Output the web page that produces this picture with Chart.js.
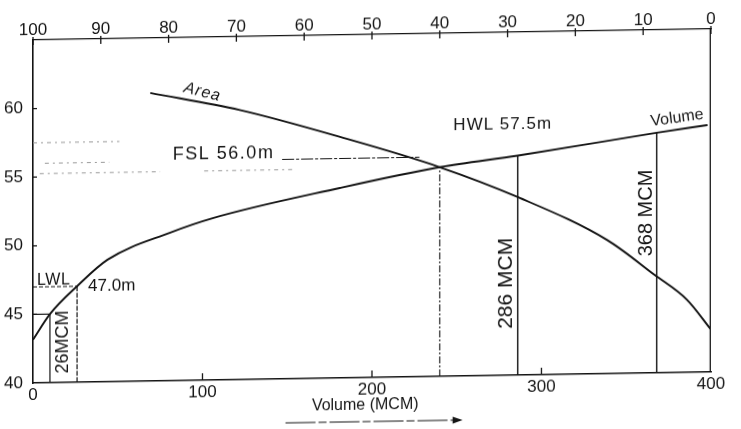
<!DOCTYPE html>
<html>
<head>
<meta charset="utf-8">
<script src="https://cdn.jsdelivr.net/npm/chart.js@4.4.1/dist/chart.umd.min.js"></script>
<style>
  html, body { margin: 0; padding: 0; background: #fff; overflow: hidden; width: 741px; height: 429px; }
  #wrap { position: absolute; left: 0; top: 0; width: 741px; height: 445px;
          transform: skewY(-0.93deg); transform-origin: 33px 0; }
</style>
</head>
<body>
<div id="wrap"><canvas id="c"></canvas></div>
<script>
// Elevation–capacity curve (bottom axis, volume in MCM)
const volumeMCM  = [0, 10, 26, 44, 81, 106, 181, 240, 286, 368, 398];
const volumeElev = [43.15, 45.0, 47.0, 48.9, 50.8, 51.8, 53.85, 55.25, 56.0, 57.5, 58.0];

// Elevation–area curve (top axis, reversed scale)
const areaValues = [82.7, 69.5, 54.7, 40, 28.5, 15.3, 8.3, 3.5, 0];
const areaElev   = [61.0, 59.65, 57.57, 55.25, 52.98, 49.74, 47.14, 45.28, 43.1];

// Reservoir levels and the storages read at them
const lwlElev = 47.0, fslElev = 56.0, hwlElev = 57.5;
const deadStorage = 26, fslStorage = 286, hwlStorage = 368;
const crossVolume = 240;          // where the two curves meet
const firstMarkVolume = 10;       // storage at 45 m

// Faint construction lines on the left: [elevation, from MCM, to MCM]
const guideLines = [[57.5, 0, 51], [56.0, 7, 45], [55.25, 4, 75], [55.25, 101, 155]];

// Tick labels
const volumeTicks = [0, 100, 200, 300, 400];
const areaTicks   = [0, 10, 20, 30, 40, 50, 60, 70, 80, 90, 100];
const elevTicks   = [40, 45, 50, 55, 60];

const ink = '#141414';
const tickFont = { family: 'Liberation Sans', size: 17 };

const elevAt = v => volumeElev[volumeMCM.indexOf(v)];
const pts = (xs, ys) => xs.map((x, i) => ({ x, y: ys[i] }));
const seg = (x1, y1, x2, y2) => [{ x: x1, y: y1 }, { x: x2, y: y2 }];

function lineSet(data, opts = {}) {
  return Object.assign({
    data, xAxisID: 'x', yAxisID: 'y', showLine: true, pointRadius: 0,
    borderColor: ink, borderWidth: 1.3, fill: false
  }, opts);
}

const datasets = [
  lineSet(pts(volumeMCM, volumeElev), { borderWidth: 1.9, cubicInterpolationMode: 'monotone' }),
  lineSet(pts(areaValues, areaElev), { xAxisID: 'xa', borderWidth: 1.9, cubicInterpolationMode: 'monotone' }),
  // drops from the capacity curve to the volume axis
  lineSet(seg(firstMarkVolume, 40, firstMarkVolume, elevAt(firstMarkVolume)), { borderWidth: 1.2 }),
  lineSet(seg(deadStorage, 40, deadStorage, elevAt(deadStorage)), { borderWidth: 1.2, borderDash: [5, 1.5] }),
  lineSet(seg(crossVolume, 40, crossVolume, elevAt(crossVolume)), { borderWidth: 1.1, borderDash: [7, 2, 2, 2] }),
  lineSet(seg(fslStorage, 40, fslStorage, elevAt(fslStorage)), { borderWidth: 1.4 }),
  lineSet(seg(hwlStorage, 40, hwlStorage, elevAt(hwlStorage)), { borderWidth: 1.4 }),
  // 45 m mark and LWL line
  lineSet(seg(0, 45, firstMarkVolume, 45), { borderWidth: 1.2 }),
  lineSet(seg(0, lwlElev, deadStorage, lwlElev), { borderWidth: 1.1, borderDash: [4, 2] }),
  // FSL leader
  lineSet(seg(147, fslElev, 228, fslElev), { borderWidth: 1.1, borderDash: [12, 2, 3, 2] }),
  // right-hand frame at full volume
  lineSet(seg(400, 40, 400, 65), { borderWidth: 2.6 }),
  ...guideLines.map(g => lineSet(seg(g[1], g[0], g[2], g[0]),
      { borderWidth: 1, borderColor: '#9a9a9a', borderDash: [4, 4, 2, 4] }))
];

// Text notes and tick marks
const notes = {
  id: 'notes',
  afterDraw(chart) {
    const { ctx, chartArea: ca } = chart;
    const x = chart.scales.x, xa = chart.scales.xa, y = chart.scales.y;
    const X = v => x.getPixelForValue(v), Y = v => y.getPixelForValue(v);

    ctx.save();
    ctx.strokeStyle = ink;
    ctx.fillStyle = ink;
    ctx.lineWidth = 1.3;

    // tick marks
    ctx.beginPath();
    areaTicks.forEach(v => { const p = xa.getPixelForValue(v); ctx.moveTo(p, ca.top - 3); ctx.lineTo(p, ca.top + 5); });
    volumeTicks.slice(1, -1).forEach(v => { const p = X(v); ctx.moveTo(p, ca.bottom); ctx.lineTo(p, ca.bottom - 7); });
    elevTicks.slice(1).forEach(v => { const p = Y(v); ctx.moveTo(ca.left, p); ctx.lineTo(ca.left + 4, p); });
    ctx.stroke();

    function label(str, px, py, o = {}) {
      ctx.save();
      ctx.translate(px, py);
      ctx.rotate((o.rot || 0) * Math.PI / 180);
      ctx.font = o.font || '17px "Liberation Sans"';
      ctx.textAlign = o.align || 'center';
      ctx.textBaseline = o.base || 'middle';
      ctx.letterSpacing = o.spacing || '0px';
      ctx.fillText(str, 0, 0);
      ctx.restore();
    }

    label('Area', X(100), Y(61.0), { font: 'italic 16px "Liberation Sans"', rot: 15, spacing: '1px' });
    label('Volume', X(380), Y(58.55), { font: '16px "Liberation Sans"', rot: -7 });
    label('LWL', X(2.4), Y(lwlElev) - 2, { align: 'left', base: 'alphabetic', font: '16px "Liberation Sans"', spacing: '0.5px' });
    label(lwlElev.toFixed(1) + 'm', X(32.5), Y(lwlElev), { align: 'left', font: '17px "Liberation Sans"' });
    label(deadStorage + 'MCM', X(18), Y(42.95), { rot: -90, font: '18px "Liberation Sans"' });
    label('FSL ' + fslElev.toFixed(1) + 'm', X(82.5), Y(fslElev) - 1, { align: 'left', base: 'alphabetic', font: '18px "Liberation Sans"', spacing: '1.5px' });
    label('HWL ' + hwlElev.toFixed(1) + 'm', X(248), Y(58.3), { align: 'left', font: '17px "Liberation Sans"', spacing: '1px' });
    label(fslStorage + ' MCM', X(279), Y(46.7), { rot: -90, font: '21px "Liberation Sans"' });
    label(hwlStorage + ' MCM', X(362), Y(51.66), { rot: -90, font: '20px "Liberation Sans"' });

    // axis title with arrow
    label('Volume (MCM)', X(196), ca.bottom + 28, { font: '16px "Liberation Sans"' });
    const ay = ca.bottom + 44, a0 = X(149), a1 = X(253.5);
    ctx.lineWidth = 1.2;
    ctx.setLineDash([30, 3, 8, 3]);
    ctx.beginPath(); ctx.moveTo(a0, ay); ctx.lineTo(a1 - 6, ay); ctx.stroke();
    ctx.setLineDash([]);
    ctx.beginPath(); ctx.moveTo(a1, ay); ctx.lineTo(a1 - 10, ay - 3.5); ctx.lineTo(a1 - 10, ay + 3.5); ctx.closePath(); ctx.fill();

    ctx.restore();
  }
};

const fixedTicks = list => s => { s.ticks = list.map(v => ({ value: v })); };

new Chart(document.getElementById('c'), {
  type: 'scatter',
  data: { datasets },
  options: {
    responsive: true,
    maintainAspectRatio: false,
    animation: false,
    layout: { padding: { left: 0, right: 30, top: 0, bottom: 0 } },
    plugins: { legend: { display: false }, tooltip: { enabled: false } },
    scales: {
      x: {
        type: 'linear', position: 'bottom', min: 0, max: 400,
        afterBuildTicks: fixedTicks(volumeTicks),
        afterFit: s => { s.height = 62; },
        grid: { display: false },
        border: { display: true, color: ink, width: 1.4, dash: [16, 2, 4, 2] },
        ticks: { color: ink, font: tickFont, padding: -6, maxRotation: 0, autoSkip: false }
      },
      xa: {
        type: 'linear', position: 'top', reverse: true, min: 0, max: 100,
        afterBuildTicks: fixedTicks(areaTicks),
        afterFit: s => { s.height = 40; },
        grid: { display: false },
        border: { display: true, color: ink, width: 1.2, dash: [14, 2, 4, 2] },
        ticks: { color: ink, font: tickFont, padding: -9, maxRotation: 0, autoSkip: false }
      },
      y: {
        type: 'linear', position: 'left', min: 40, max: 65,
        afterBuildTicks: fixedTicks(elevTicks),
        afterFit: s => { s.width = 33; },
        grid: { display: false },
        border: { display: true, color: ink, width: 1.6 },
        ticks: { color: ink, font: tickFont, padding: 2 }
      }
    }
  },
  plugins: [notes]
});
</script>
</body>
</html>
